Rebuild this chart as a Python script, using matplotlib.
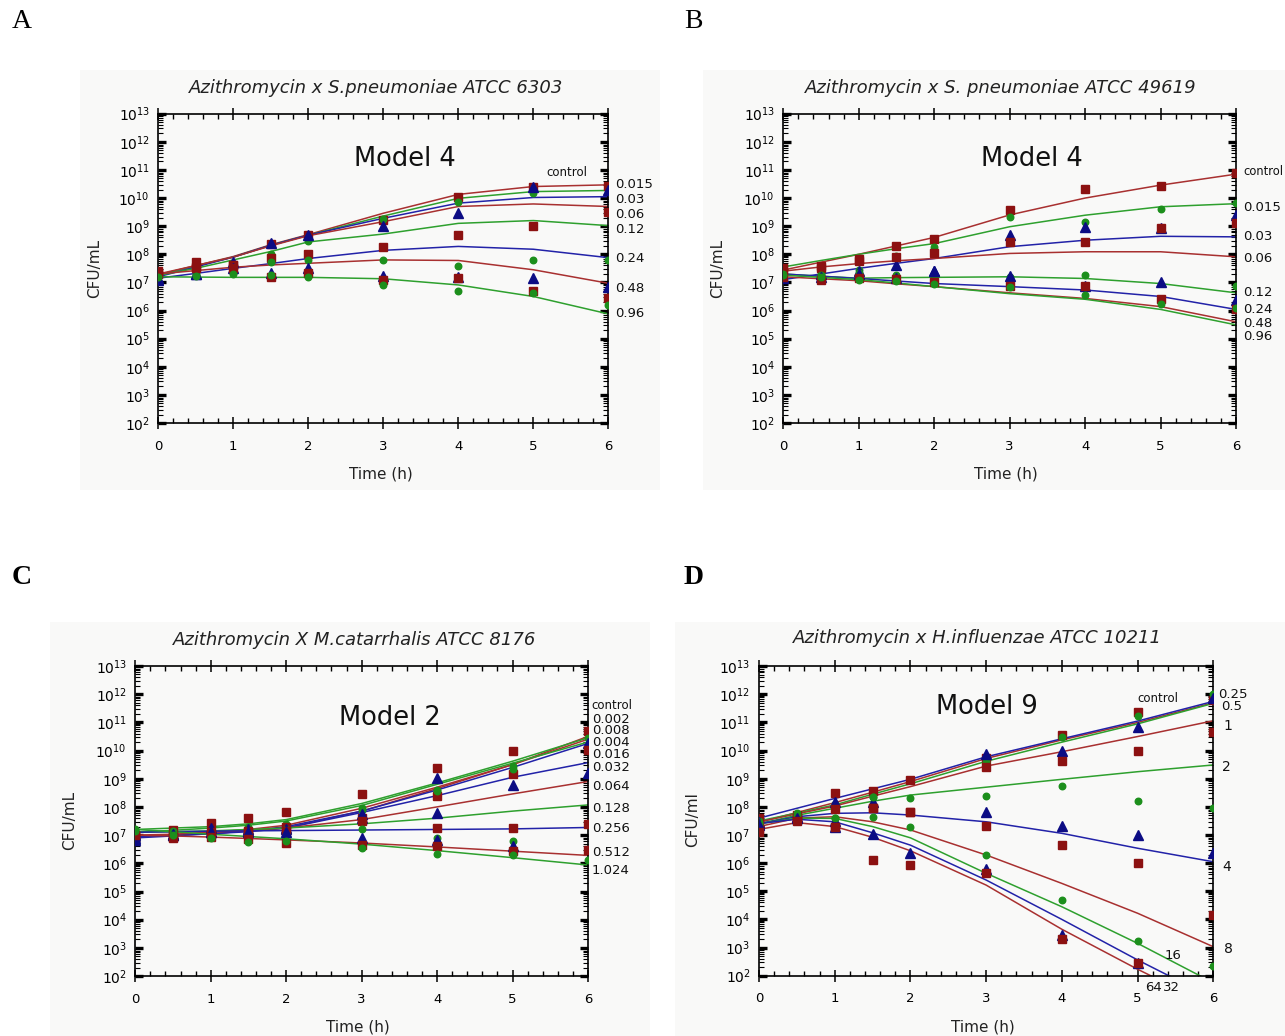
import numpy as np
import matplotlib
matplotlib.use("Agg")
import matplotlib.pyplot as plt
from matplotlib.patches import Rectangle
from matplotlib.ticker import LogLocator, MultipleLocator, NullFormatter

# Sampling times (h)
T_OBS = [0, 0.5, 1, 1.5, 2, 3, 4, 5, 6]
T_FIT = [0, 0.5, 1, 1.5, 2, 3, 4, 5, 6]
nan = np.nan

# ---------------- Panel A: S. pneumoniae ATCC 6303 (log10 CFU/mL) ----------------
A_CONC = ["control", "0.015", "0.03", "0.06", "0.12", "0.24", "0.48", "0.96"]
A_OBS = [
    [7.39, 7.74, 7.62, 8.35, 8.70, 9.22, 10.03, 10.41, 10.43],
    [7.23, 7.30, 7.40, 8.00, 8.48, 9.25, 9.87, 10.19, nan],
    [7.15, 7.30, 7.74, 8.39, 8.69, 8.99, 9.48, 10.41, 10.27],
    [7.35, 7.56, 7.62, 7.86, 8.00, 8.25, 8.69, 9.02, 9.52],
    [7.20, 7.27, 7.33, 7.74, 7.80, 7.80, 7.59, 7.78, 7.80],
    [7.10, 7.30, 7.50, 7.33, 7.50, 7.23, 7.21, 7.15, 6.85],
    [7.30, 7.50, 7.50, 7.20, 7.35, 7.09, 7.15, 6.68, 6.46],
    [7.20, 7.22, 7.30, 7.27, 7.18, 6.91, 6.70, 6.62, 6.18],
]
A_FIT = [
    [7.27, 7.60, 7.92, 8.34, 8.70, 9.46, 10.13, 10.41, 10.47],
    [7.27, 7.58, 7.90, 8.32, 8.68, 9.36, 9.99, 10.23, 10.27],
    [7.20, 7.55, 7.90, 8.32, 8.68, 9.28, 9.82, 10.02, 10.05],
    [7.30, 7.60, 7.90, 8.30, 8.66, 9.16, 9.70, 9.79, 9.70],
    [7.25, 7.50, 7.80, 8.10, 8.44, 8.72, 9.10, 9.20, 9.02],
    [7.15, 7.32, 7.50, 7.67, 7.85, 8.14, 8.28, 8.18, 7.88],
    [7.30, 7.42, 7.54, 7.62, 7.68, 7.80, 7.78, 7.45, 6.97],
    [7.20, 7.19, 7.18, 7.18, 7.18, 7.13, 6.91, 6.50, 5.88],
]

# ---------------- Panel B: S. pneumoniae ATCC 49619 ----------------
B_CONC = ["control", "0.015", "0.03", "0.06", "0.12", "0.24", "0.48", "0.96"]
B_OBS = [
    [7.50, 7.59, 7.82, 8.30, 8.55, 9.58, 10.31, 10.43, 10.90],
    [7.35, 7.30, 7.45, 7.95, 8.25, 9.34, 9.16, 9.60, 9.82],
    [7.15, 7.30, 7.40, 7.62, 7.42, 8.69, 8.96, 8.95, 9.40],
    [7.45, 7.50, 7.75, 7.92, 8.04, 8.45, 8.45, 8.95, 9.13],
    [7.30, 7.27, 7.35, 7.27, 7.20, 7.20, 7.27, nan, 6.88],
    [7.20, 7.20, 7.30, 7.15, 7.42, 7.23, 6.89, 7.00, 6.36],
    [7.20, 7.10, 7.15, 7.12, 7.00, 6.88, 6.89, 6.40, 6.05],
    [7.25, 7.20, 7.10, 7.05, 6.95, 6.85, 6.56, 6.22, 6.08],
]
B_FIT = [
    [7.44, 7.72, 8.00, 8.30, 8.60, 9.40, 10.00, 10.46, 10.85],
    [7.55, 7.78, 8.00, 8.20, 8.38, 8.98, 9.39, 9.69, 9.80],
    [7.10, 7.30, 7.50, 7.68, 7.85, 8.27, 8.50, 8.64, 8.62],
    [7.40, 7.55, 7.67, 7.77, 7.85, 8.03, 8.09, 8.09, 7.91],
    [7.30, 7.22, 7.15, 7.17, 7.18, 7.20, 7.14, 6.96, 6.63],
    [7.30, 7.22, 7.14, 7.05, 6.96, 6.85, 6.73, 6.50, 6.04],
    [7.20, 7.13, 7.06, 6.95, 6.85, 6.63, 6.43, 6.14, 5.60],
    [7.26, 7.18, 7.10, 6.98, 6.85, 6.60, 6.40, 6.04, 5.49],
]

# ---------------- Panel C: M. catarrhalis ATCC 8176 ----------------
C_CONC = ["control", "0.002", "0.004", "0.008", "0.016", "0.032",
          "0.064", "0.128", "0.256", "0.512", "1.024"]
C_OBS = [
    [6.95, 7.18, 7.44, 7.62, 7.83, 8.45, 9.37, 10.00, 10.70],
    [7.20, 7.15, 7.10, 7.30, 7.40, 7.95, 8.60, 9.45, 10.43],
    [6.83, 7.00, 7.24, 7.20, 7.25, 7.60, 9.01, nan, 10.26],
    [7.00, 7.00, 7.10, 7.15, 7.30, 7.60, 8.39, 9.17, 10.02],
    [7.10, 7.05, 7.00, 7.10, 7.20, 7.90, 8.55, 9.35, nan],
    [6.90, 7.00, 7.10, 7.15, 7.20, 7.75, 7.80, 8.78, 9.19],
    [7.00, 6.95, 7.05, 7.10, 7.15, 7.50, 7.26, 7.26, 7.39],
    [7.15, 7.10, 6.95, 7.00, 7.00, 7.20, 6.90, 6.80, nan],
    [7.00, 7.05, 7.10, 7.10, 7.10, 6.89, 6.83, 6.60, nan],
    [7.00, 6.90, 6.95, 6.85, 6.71, 6.65, 6.60, 6.44, 6.47],
    [7.15, 7.00, 6.90, 6.77, 6.80, 6.53, 6.33, 6.30, 6.12],
]
C_FIT = [
    [6.95, 7.00, 7.05, 7.15, 7.25, 7.85, 8.65, 9.50, 10.50],
    [7.20, 7.25, 7.30, 7.40, 7.55, 8.12, 8.85, 9.62, 10.45],
    [6.90, 6.97, 7.05, 7.15, 7.30, 7.85, 8.60, 9.40, 10.25],
    [6.95, 7.02, 7.10, 7.20, 7.35, 7.95, 8.70, 9.50, 10.40],
    [7.10, 7.17, 7.25, 7.35, 7.50, 8.05, 8.80, 9.55, 10.30],
    [6.95, 7.00, 7.05, 7.12, 7.25, 7.80, 8.40, 9.05, 9.57],
    [7.00, 7.03, 7.10, 7.17, 7.25, 7.55, 8.00, 8.46, 8.90],
    [7.10, 7.12, 7.15, 7.20, 7.25, 7.40, 7.60, 7.85, 8.07],
    [7.10, 7.12, 7.14, 7.15, 7.16, 7.18, 7.20, 7.22, 7.27],
    [7.00, 6.97, 6.93, 6.88, 6.83, 6.72, 6.58, 6.43, 6.28],
    [7.20, 7.12, 7.03, 6.95, 6.87, 6.68, 6.45, 6.20, 5.94],
]

# ---------------- Panel D: H. influenzae ATCC 10211 ----------------
D_CONC = ["control", "0.25", "0.5", "1", "2", "4", "8", "16", "32", "64"]
D_OBS = [
    [7.59, 7.71, 8.48, 8.56, 8.95, 9.73, 10.55, 11.36, 11.80],
    [7.50, 7.77, 8.10, 8.36, nan, 9.60, 10.50, 11.23, 12.00],
    [7.47, 7.65, 8.18, 8.18, nan, 9.88, 10.00, 10.85, 11.86],
    [7.40, 7.60, 7.91, 7.95, 7.83, 9.40, 9.63, 9.99, 10.67],
    [7.45, 7.70, 7.59, 8.36, 8.30, 8.40, 8.74, 8.21, 7.95],
    [7.40, 7.60, 7.50, nan, nan, 7.83, 7.33, 7.00, 6.35],
    [7.20, 7.60, 7.30, 7.95, 7.83, 7.32, 6.64, 6.02, 4.16],
    [7.40, 7.70, 7.59, 7.63, 7.30, 6.29, 4.69, 3.23, 2.36],
    [7.35, 7.60, 7.30, 7.04, 6.37, 5.78, 3.45, 2.45, nan],
    [7.10, 7.50, 7.30, 6.11, 5.93, 5.64, 3.29, 2.44, nan],
]
D_FIT = [
    [7.45, 7.80, 8.15, 8.52, 8.90, 9.72, 10.38, 11.00, 11.70],
    [7.50, 7.78, 8.07, 8.45, 8.82, 9.62, 10.30, 10.95, 11.68],
    [7.60, 7.95, 8.30, 8.64, 8.98, 9.78, 10.42, 11.05, 11.75],
    [7.47, 7.75, 8.03, 8.38, 8.72, 9.45, 9.96, 10.50, 11.06],
    [7.40, 7.70, 7.95, 8.20, 8.42, 8.70, 8.98, 9.25, 9.49],
    [7.40, 7.65, 7.77, 7.79, 7.71, 7.47, 7.06, 6.53, 6.05],
    [7.30, 7.60, 7.65, 7.47, 7.18, 6.29, 5.28, 4.22, 3.03],
    [7.40, 7.60, 7.59, 7.30, 6.90, 5.64, 4.45, 3.15, 1.75],
    [7.41, 7.56, 7.47, 7.08, 6.64, 5.40, 4.00, 2.56, 1.20],
    [7.20, 7.44, 7.30, 6.92, 6.44, 5.22, 3.65, 2.23, 0.90],
]

# curve labels: (text, x in h, log10 y, font size)
A_LABELS = [("control", 5.18, 10.90, 8.5), ("0.015", 6.09, 10.47, 9.5), ("0.03", 6.09, 9.96, 9.5),
            ("0.06", 6.09, 9.40, 9.5), ("0.12", 6.09, 8.87, 9.5), ("0.24", 6.09, 7.84, 9.5),
            ("0.48", 6.09, 6.79, 9.5), ("0.96", 6.09, 5.90, 9.5)]
B_LABELS = [("control", 6.10, 10.93, 8.3), ("0.015", 6.09, 9.68, 9.5), ("0.03", 6.09, 8.62, 9.5),
            ("0.06", 6.09, 7.84, 9.5), ("0.12", 6.09, 6.63, 9.5), ("0.24", 6.09, 6.02, 9.5),
            ("0.48", 6.09, 5.53, 9.5), ("0.96", 6.09, 5.06, 9.5)]
C_LABELS = [("control", 6.05, 11.61, 8.5), ("0.002", 6.05, 11.10, 9.5), ("0.008", 6.05, 10.70, 9.5),
            ("0.004", 6.05, 10.29, 9.5), ("0.016", 6.05, 9.87, 9.5), ("0.032", 6.05, 9.39, 9.5),
            ("0.064", 6.05, 8.72, 9.5), ("0.128", 6.05, 7.93, 9.5), ("0.256", 6.05, 7.24, 9.5),
            ("0.512", 6.05, 6.38, 9.5), ("1.024", 6.05, 5.76, 9.5)]
D_LABELS = [("control", 5.00, 11.86, 8.5), ("0.25", 6.06, 12.01, 9.5), ("0.5", 6.10, 11.56, 9.5),
            ("1", 6.14, 10.89, 10), ("2", 6.12, 9.40, 10), ("4", 6.12, 5.87, 10),
            ("8", 6.14, 2.94, 10), ("16", 5.36, 2.73, 9.5), ("64", 5.10, 1.58, 9.5),
            ("32", 5.33, 1.58, 9.5)]

MARKER_COLORS = ["#8c1111", "#1c8f1c", "#0c0c84"]
LINE_COLORS = ["#a83030", "#2ea02e", "#2222a8"]
MARKERS = ["s", "o", "^"]
MARKER_SIZES = [5.7, 4.7, 6.7]

W, H = 1285, 1036
fig = plt.figure(figsize=(W / 100, H / 100), dpi=100)
fig.patch.set_facecolor("white")


def fx(px):
    return px / W


def fy(py):
    return 1 - py / H


def add_panel(box_px, bg_px):
    bx0, by0, bx1, by1 = bg_px
    fig.patches.append(Rectangle((fx(bx0), fy(by1)), fx(bx1 - bx0), (by1 - by0) / H,
                                 transform=fig.transFigure, facecolor="#f9f9f8",
                                 edgecolor="none", zorder=-5))
    x0, ytop, x1, ybot = box_px
    ax = fig.add_axes([fx(x0), fy(ybot), fx(x1 - x0), (ybot - ytop) / H])
    ax.set_zorder(2)
    ax.set_facecolor("none")
    ax.set_yscale("log")
    ax.set_xlim(0, 6)
    ax.set_ylim(1e2, 1e13)
    ax.yaxis.set_major_locator(LogLocator(base=10.0, subs=(1.0,), numticks=20))
    ax.yaxis.set_minor_locator(LogLocator(base=10.0, subs=np.arange(2, 10), numticks=20))
    ax.yaxis.set_minor_formatter(NullFormatter())
    ax.xaxis.set_major_locator(MultipleLocator(1))
    ax.xaxis.set_minor_locator(MultipleLocator(0.2))
    ax.tick_params(axis="y", which="major", direction="in", left=True, right=True,
                   length=6, width=2.4, labelsize=10, pad=6, colors="black")
    ax.tick_params(axis="y", which="minor", direction="in", left=True, right=True,
                   length=3.5, width=0.8)
    ax.tick_params(axis="x", which="major", direction="inout", top=True, bottom=True,
                   length=8, width=1.1, labelsize=9.5, pad=8)
    ax.tick_params(axis="x", which="minor", direction="in", top=True, bottom=True,
                   length=3.5, width=1.0)
    for s in ax.spines.values():
        s.set_linewidth(1.2)
    return ax


def draw(ax, conc, obs, fit, labels, title, model, title_px, model_px, xlabel_px,
         ylabel_px, ylabel="CFU/mL"):
    for i, _ in enumerate(conc):
        k = i % 3
        ax.plot(T_FIT, 10 ** np.asarray(fit[i]), color=LINE_COLORS[k], lw=1.1, zorder=2)
    for i, _ in enumerate(conc):
        k = i % 3
        ax.plot(T_OBS, 10 ** np.asarray(obs[i]), linestyle="none", marker=MARKERS[k],
                ms=MARKER_SIZES[k], color=MARKER_COLORS[k], mec=MARKER_COLORS[k], zorder=3)
    for text, x, y, size in labels:
        ax.text(x, 10 ** y, text, fontsize=size, ha="left", va="center", clip_on=False,
                color="#111111")
    fig.text(fx(title_px[0]), fy(title_px[1]), title, fontsize=13, style="italic",
             ha="center", va="center", color="#222222")
    fig.text(fx(model_px[0]), fy(model_px[1]), model, fontsize=18.5, ha="center",
             va="center", color="#111111")
    fig.text(fx(xlabel_px[0]), fy(xlabel_px[1]), "Time (h)", fontsize=11, ha="center",
             va="center", color="#222222")
    fig.text(fx(ylabel_px[0]), fy(ylabel_px[1]), ylabel, fontsize=11, ha="center",
             va="center", rotation=90, color="#222222")


axA = add_panel((158.3, 113.7, 608.3, 423.0), (80, 70, 660, 490))
draw(axA, A_CONC, A_OBS, A_FIT, A_LABELS, "Azithromycin x S.pneumoniae ATCC 6303",
     "Model 4", (376, 88), (405, 159), (381, 474), (95, 268))

axB = add_panel((783.3, 113.7, 1236.0, 423.0), (703, 70, 1285, 490))
draw(axB, B_CONC, B_OBS, B_FIT, B_LABELS, "Azithromycin x S. pneumoniae ATCC 49619",
     "Model 4", (1001, 88), (1032, 159), (1006, 474), (718, 268))

axC = add_panel((135.3, 665.9, 588.0, 976.1), (50, 622, 650, 1036))
draw(axC, C_CONC, C_OBS, C_FIT, C_LABELS, "Azithromycin X M.catarrhalis ATCC 8176",
     "Model 2", (355, 640), (390, 718), (358, 1027), (70, 820))

axD = add_panel((759.0, 666.2, 1213.3, 975.7), (675, 622, 1285, 1036))
draw(axD, D_CONC, D_OBS, D_FIT, D_LABELS, "Azithromycin x H.influenzae ATCC 10211",
     "Model 9", (977, 638), (987, 707), (983, 1027), (693, 820), ylabel="CFU/ml")

for letter, px, py, weight in [("A", 22, 22, "normal"), ("B", 693, 22, "normal"),
                               ("C", 22, 577, "bold"), ("D", 694, 577, "bold")]:
    fig.text(fx(px), fy(py), letter, fontsize=20, family="Liberation Serif",
             fontweight=weight, ha="center", va="center")

fig.savefig("out.png", dpi=100)
